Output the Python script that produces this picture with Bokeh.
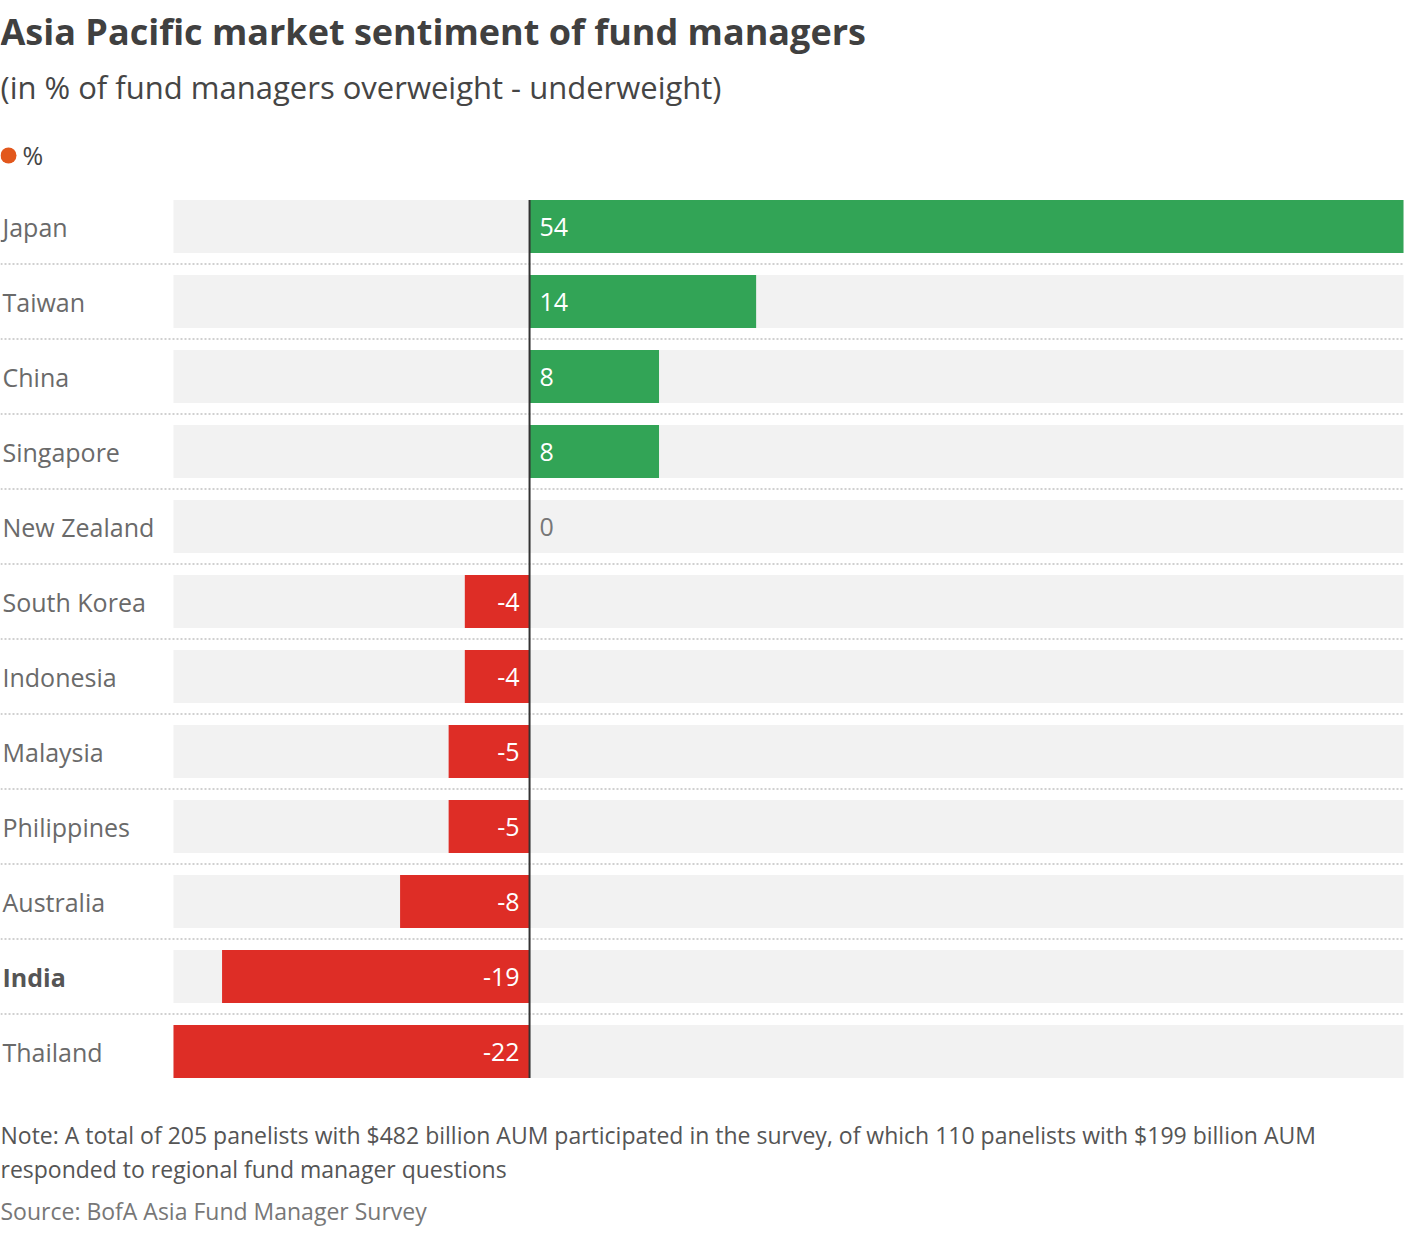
from bokeh.plotting import figure
from bokeh.models import Range1d, ColumnDataSource
from bokeh.core.properties import value
from bokeh.embed import file_html
from bokeh.resources import INLINE

# ---- data ----
countries = ["Japan", "Taiwan", "China", "Singapore", "New Zealand", "South Korea",
             "Indonesia", "Malaysia", "Philippines", "Australia", "India", "Thailand"]
values = [54, 14, 8, 8, 0, -4, -4, -5, -5, -8, -19, -22]
highlight = ["India"]

TITLE = "Asia Pacific market sentiment of fund managers"
SUBTITLE = "(in % of fund managers overweight - underweight)"
LEGEND_LABEL = "%"
NOTE_LINES = ["Note: A total of 205 panelists with $482 billion AUM participated in the survey, of which 110 panelists with $199 billion AUM",
              "responded to regional fund manager questions"]
SOURCE = "Source: BofA Asia Fund Manager Survey"

# ---- layout ----
FONT = "Open Sans"
W, H = 1404, 1226
X_MIN, X_MAX = min(values), max(values)
BAR_LEFT_PX, BAR_RIGHT_PX = 173, 1403
scale = (BAR_RIGHT_PX - BAR_LEFT_PX) / (X_MAX - X_MIN)
x_start = X_MIN - BAR_LEFT_PX / scale
x_end = X_MAX + (W - BAR_RIGHT_PX) / scale

ROW0_PX, PITCH, BAR_H_PX = 226, 75, 53
y_top = -ROW0_PX / PITCH
y_bottom = (H - ROW0_PX) / PITCH


def px2x(px):
    return x_start + px / scale


def py2y(py):
    return y_top + py / PITCH


p = figure(width=W, height=H, x_range=Range1d(x_start, x_end),
           y_range=Range1d(y_bottom, y_top), output_backend="svg",
           toolbar_location=None, min_border=0, x_axis_location=None,
           y_axis_location=None)
p.grid.visible = False
p.outline_line_color = None
p.background_fill_color = "white"
p.border_fill_color = "white"

n = len(countries)
rows = list(range(n))
bh = BAR_H_PX / PITCH

# background bars
p.hbar(y=rows, left=X_MIN, right=X_MAX, height=bh, fill_color="#f2f2f2", line_color=None)

# value bars
src = ColumnDataSource(dict(
    y=rows,
    left=[min(v, 0) for v in values],
    right=[max(v, 0) for v in values],
    color=["#32a456" if v > 0 else "#de2d26" for v in values],
))
p.hbar(y="y", left="left", right="right", height=bh, fill_color="color", line_color=None, source=src)

# separators
p.segment(x0=[px2x(0)] * (n - 1), x1=[X_MAX] * (n - 1),
          y0=[i + 0.5 for i in range(n - 1)], y1=[i + 0.5 for i in range(n - 1)],
          line_color="#d0d0d0", line_width=2, line_dash="2 2")

# zero line
p.segment(x0=[0], x1=[0], y0=[-bh / 2], y1=[n - 1 + bh / 2], line_color="#333333", line_width=2)

# category labels
lab = ColumnDataSource(dict(
    x=[px2x(2)] * n, y=rows, text=countries,
    style=["bold" if c in highlight else "normal" for c in countries],
    color=["#555555" if c in highlight else "#6a6a6a" for c in countries],
))
p.text(x="x", y="y", text="text", source=lab, text_font=value(FONT), text_font_size="25px",
       text_font_style="style", text_color="color", text_baseline="middle", text_align="left")

# value labels
pos = [i for i, v in enumerate(values) if v >= 0]
neg = [i for i, v in enumerate(values) if v < 0]
p.text(x=[0] * len(pos), y=pos, text=[str(values[i]) for i in pos],
       text_color=["white" if values[i] != 0 else "#777777" for i in pos],
       x_offset=10, text_align="left", text_baseline="middle",
       text_font=value(FONT), text_font_size="25px")
p.text(x=[0] * len(neg), y=neg, text=[str(values[i]) for i in neg],
       text_color="white", x_offset=-10, text_align="right", text_baseline="middle",
       text_font=value(FONT), text_font_size="25px")

# title / subtitle / legend
p.text(x=[px2x(0)], y=[py2y(31)], text=[TITLE], text_font=value(FONT), text_font_size="36px",
       text_font_style="bold", text_color="#404040", text_baseline="middle")
p.text(x=[px2x(0)], y=[py2y(86)], text=[SUBTITLE], text_font=value(FONT), text_font_size="31px",
       text_color="#454545", text_baseline="middle")
p.scatter(x=[px2x(8)], y=[py2y(155)], size=16, marker="circle", fill_color="#e2571c", line_color=None)
p.text(x=[px2x(22)], y=[py2y(154)], text=[LEGEND_LABEL], text_font=value(FONT), text_font_size="25px",
       text_color="#454545", text_baseline="middle")

# notes
p.text(x=[px2x(0)] * 2, y=[py2y(1134), py2y(1168)], text=NOTE_LINES, text_font=value(FONT),
       text_font_size="23px", text_color="#555555", text_baseline="middle")
p.text(x=[px2x(0)], y=[py2y(1210)], text=[SOURCE], text_font=value(FONT),
       text_font_size="23px", text_color="#777777", text_baseline="middle")

open("out.html", "w").write(file_html(p, INLINE))
